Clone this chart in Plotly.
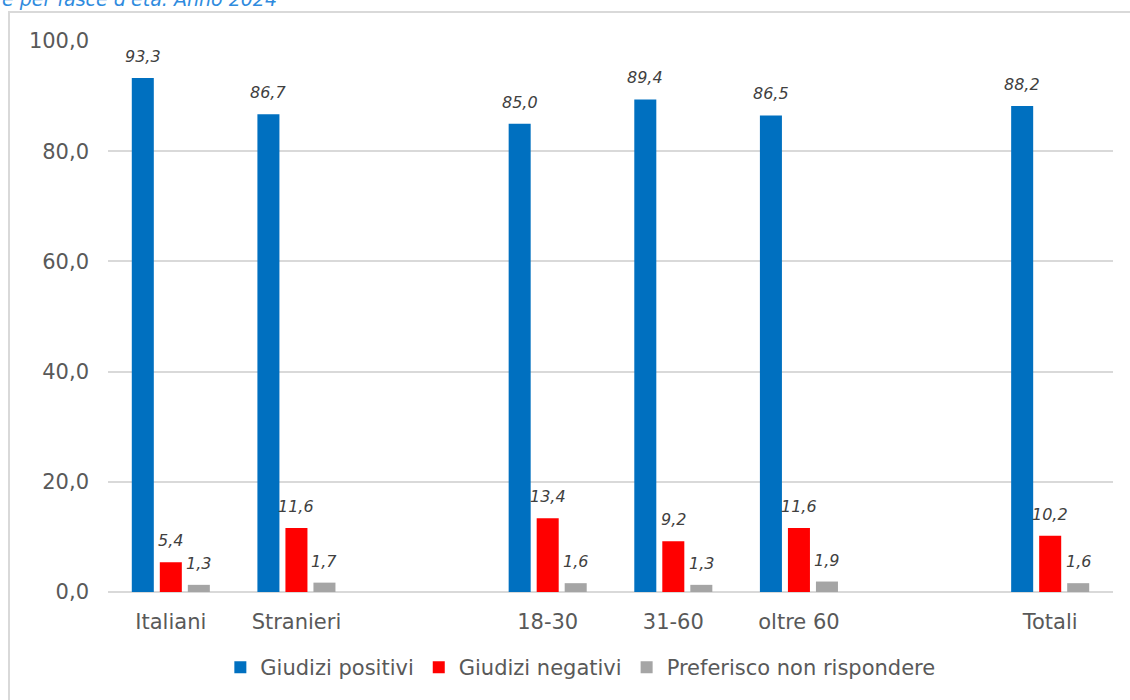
import plotly.graph_objects as go

categories = ["Italiani", "Stranieri", " ", "18-30", "31-60", "oltre 60", "  ", "Totali"]
positivi = [93.3, 86.7, None, 85.0, 89.4, 86.5, None, 88.2]
negativi = [5.4, 11.6, None, 13.4, 9.2, 11.6, None, 10.2]
non_risp = [1.3, 1.7, None, 1.6, 1.3, 1.9, None, 1.6]
series_names = ["Giudizi positivi", "Giudizi negativi", "Preferisco non rispondere"]
series_colors = ["#0070C0", "#FF0000", "#A5A5A5"]
y_ticks = [0, 20, 40, 60, 80, 100]

FONT = "DejaVu Sans, Verdana, sans-serif"

fig = go.Figure()
all_series = [positivi, negativi, non_risp]
for name, vals, col in zip(series_names, all_series, series_colors):
    fig.add_trace(go.Bar(
        x=categories, y=vals, name=name, marker=dict(color=col, line=dict(width=0)),
        hoverinfo="skip",
    ))

annotations = []
offsets = [-28, 0, 28]
for vals, dx in zip(all_series, offsets):
    for c, v in zip(categories, vals):
        if v is None:
            continue
        annotations.append(dict(
            x=c, y=v, xref="x", yref="y", xshift=dx, yshift=10,
            text=f"<i>{v:.1f}</i>".replace(".", ","), showarrow=False,
            yanchor="bottom", xanchor="center",
            font=dict(family=FONT, size=16, color="#404040"),
        ))

annotations.append(dict(
    x=-0.107, y=1.052, xref="paper", yref="paper", xanchor="left", yanchor="bottom",
    text="<i>e per fasce d'età. Anno 2024</i>", showarrow=False,
    font=dict(family=FONT, size=19, color="#2F8BDE"),
))

fig.update_layout(
    width=1130, height=700,
    margin=dict(l=108, r=17, t=41, b=108, autoexpand=False),
    paper_bgcolor="white", plot_bgcolor="white",
    separators=",.",
    barmode="group", bargap=0.331, bargroupgap=0.214,
    font=dict(family=FONT, size=21, color="#595959"),
    showlegend=True,
    legend=dict(orientation="h", x=0.47, xanchor="center", y=-0.1, yanchor="top",
                font=dict(family=FONT, size=21, color="#595959"),
                itemwidth=30, traceorder="normal"),
    annotations=annotations,
    shapes=[dict(type="rect", xref="paper", yref="paper",
                 x0=-0.0985, x1=1.1, y0=-0.4, y1=1.0526,
                 line=dict(color="#D9D9D9", width=2), fillcolor="rgba(0,0,0,0)", layer="below")],
)
fig.update_xaxes(
    type="category", categoryorder="array", categoryarray=categories,
    showgrid=False, zeroline=False, showline=False, ticks="",
    tickfont=dict(family=FONT, size=21, color="#595959"), ticklabelstandoff=15,
)
fig.update_yaxes(
    range=[0, 100], tickvals=y_ticks, tickformat=".1f",
    showgrid=True, gridcolor="#D9D9D9", gridwidth=1.5,
    zeroline=True, zerolinecolor="#D9D9D9", zerolinewidth=1.5,
    showline=False, ticks="",
    tickfont=dict(family=FONT, size=21, color="#595959"), ticklabelstandoff=18,
)

fig.write_html("out.html", config={"displayModeBar": False},
               post_script="document.body.style.margin='0';document.body.style.overflow='hidden';")
